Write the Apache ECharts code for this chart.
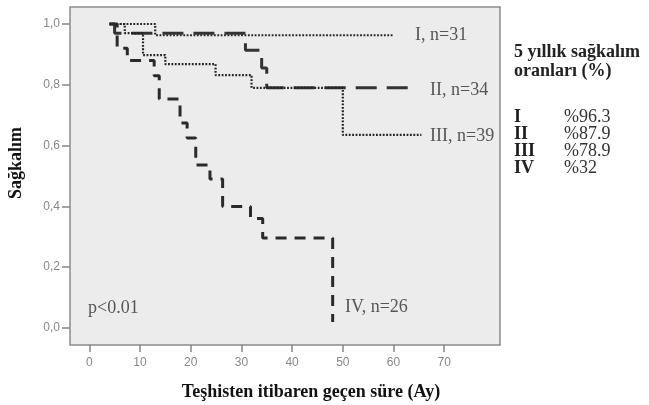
<!DOCTYPE html>
<html>
<head>
<meta charset="utf-8">
<script src="https://cdn.jsdelivr.net/npm/echarts@6/dist/echarts.min.js"></script>
<style>
  html, body { margin: 0; padding: 0; background: #fff; }
  #chart { width: 649px; height: 405px; }
</style>
</head>
<body>
<div id="chart"></div>
<script>
// survival steps: [month, survival]
var stageI = [[4, 1], [13, 0.963], [60, 0.963]];
var stageII = [[4, 1], [5, 0.97], [30.8, 0.914], [34, 0.855], [35, 0.79], [63.3, 0.79]];
var stageIII = [[4, 1], [7, 0.97], [10.6, 0.898], [15, 0.868], [24.9, 0.832], [32, 0.79], [50, 0.635], [65.5, 0.635]];
var stageIV = [[4, 1], [5.5, 0.92], [7.5, 0.88], [12.8, 0.83], [13.8, 0.753], [17.9, 0.674], [19.3, 0.625],
    [21, 0.536], [23.8, 0.49], [26.3, 0.40], [31.8, 0.36], [34.2, 0.296], [48, 0.02]];

var xTicks = [0, 10, 20, 30, 40, 50, 60, 70];
var yTicks = [0, 0.2, 0.4, 0.6, 0.8, 1.0];

var groupNames = ['I', 'II', 'III', 'IV'];
var fiveYear = ['%96.3', '%87.9', '%78.9', '%32'];
var curveLabels = ['I, n=31', 'II, n=34', 'III, n=39', 'IV, n=26'];

var serif = '"Liberation Serif", "DejaVu Serif", serif';
var sans = '"Liberation Sans", Arial, sans-serif';

var chart = echarts.init(document.getElementById('chart'));

var dotted = {color: '#222', width: 2.2, type: [1.8, 1.6]};

function txt(x, y, s, font, fill) {
    return {type: 'text', style: {x: x, y: y, text: s, font: font, fill: fill, verticalAlign: 'middle'}};
}

var graphics = [
    {type: 'text', x: 16, y: 163, rotation: Math.PI / 2,
        style: {x: 0, y: 0, text: 'Sağkalım', font: 'bold 18px ' + serif, fill: '#111', align: 'center', verticalAlign: 'middle'}},
    {type: 'text', style: {x: 311, y: 392, text: 'Teşhisten itibaren geçen süre (Ay)', font: 'bold 18px ' + serif, fill: '#111', align: 'center', verticalAlign: 'middle'}},
    txt(88, 308, 'p<0.01', '18px ' + serif, '#555'),
    txt(415, 35, curveLabels[0], '18px ' + serif, '#555'),
    txt(430, 90, curveLabels[1], '18px ' + serif, '#555'),
    txt(430, 136, curveLabels[2], '18px ' + serif, '#555'),
    txt(345, 307, curveLabels[3], '18px ' + serif, '#555'),
    txt(514, 52, '5 yıllık sağkalım', 'bold 18px ' + serif, '#222'),
    txt(514, 71, 'oranları (%)', 'bold 18px ' + serif, '#222')
];

groupNames.forEach(function (g, i) {
    graphics.push(txt(514, 117 + i * 17, g, 'bold 18px ' + serif, '#222'));
    graphics.push(txt(564, 117 + i * 17, fiveYear[i], '18px ' + serif, '#333'));
});

chart.setOption({
    animation: false,
    grid: {
        left: 70, right: 149, top: 7, bottom: 60,
        show: true, backgroundColor: '#ececec', borderColor: '#8c8c8c', borderWidth: 1.5
    },
    xAxis: {
        type: 'value', min: -3.8, max: 81,
        splitLine: {show: false},
        axisLine: {show: false, onZero: false},
        axisTick: {show: true, length: 7, customValues: xTicks, lineStyle: {color: '#888', width: 1.5}},
        axisLabel: {customValues: xTicks, color: '#888', fontSize: 12, fontFamily: sans, margin: 12}
    },
    yAxis: {
        type: 'value', min: -0.056, max: 1.056,
        splitLine: {show: false},
        axisLine: {show: false, onZero: false},
        axisTick: {show: true, length: 8, customValues: yTicks, lineStyle: {color: '#888', width: 1.5}},
        axisLabel: {
            customValues: yTicks, color: '#888', fontSize: 12, fontFamily: sans, margin: 10,
            formatter: function (v) { return v.toFixed(1).replace('.', ','); }
        }
    },
    series: [
        {name: 'I', type: 'line', step: 'end', data: stageI, symbol: 'none', lineStyle: dotted},
        {name: 'II', type: 'line', step: 'end', data: stageII, symbol: 'none', lineStyle: {color: '#333', width: 3, type: [21, 10]}},
        {name: 'III', type: 'line', step: 'end', data: stageIII, symbol: 'none', lineStyle: dotted},
        {name: 'IV', type: 'line', step: 'end', data: stageIV, symbol: 'none', lineStyle: {color: '#2a2a2a', width: 3, type: [11, 8]}}
    ],
    graphic: graphics
});
</script>
</body>
</html>
